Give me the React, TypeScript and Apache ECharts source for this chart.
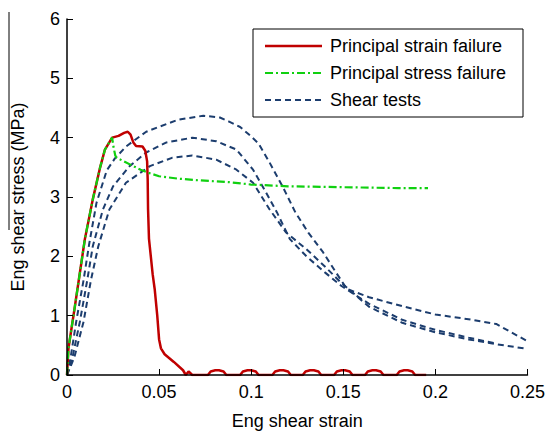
import React, { useEffect, useRef } from "react";
import * as echarts from "echarts";

// Eng shear strain vs eng shear stress (MPa)
const principalStrainFailure: [number, number][] = [
  [0, 0], [0.0008, 0.45], [0.0043, 1.16], [0.0097, 2.29], [0.014, 2.96], [0.018, 3.5],
  [0.0206, 3.8], [0.0245, 4.0], [0.028, 4.03], [0.031, 4.08], [0.033, 4.1], [0.0345, 4.05],
  [0.036, 3.92], [0.0375, 3.86], [0.041, 3.85], [0.0425, 3.78], [0.0435, 3.6], [0.0438, 3.3],
  [0.044, 2.8], [0.0445, 2.3], [0.0465, 1.7], [0.0476, 1.45], [0.049, 1.0], [0.05, 0.6],
  [0.051, 0.45], [0.053, 0.35], [0.058, 0.22], [0.063, 0.08], [0.0645, 0.0], [0.066, 0.06],
  [0.068, 0.0], [0.0765, 0.0], [0.078, 0.06], [0.0805, 0.08], [0.0825, 0.08], [0.085, 0.06],
  [0.0865, 0.0], [0.094, 0.0], [0.0955, 0.06], [0.098, 0.08], [0.1, 0.08], [0.1025, 0.06],
  [0.104, 0.0], [0.1115, 0.0], [0.113, 0.06], [0.1155, 0.08], [0.1175, 0.08], [0.12, 0.06],
  [0.1215, 0.0], [0.128, 0.0], [0.1295, 0.06], [0.132, 0.08], [0.134, 0.08], [0.1365, 0.06],
  [0.138, 0.0], [0.145, 0.0], [0.1465, 0.06], [0.149, 0.08], [0.151, 0.08], [0.1535, 0.06],
  [0.155, 0.0], [0.1618, 0.0], [0.1633, 0.06], [0.1658, 0.08], [0.1678, 0.08], [0.1703, 0.06],
  [0.1718, 0.0], [0.179, 0.0], [0.1805, 0.06], [0.183, 0.08], [0.185, 0.08], [0.1875, 0.06],
  [0.189, 0.0], [0.195, 0.0],
];

const principalStressFailure: [number, number][] = [
  [0, 0], [0.0008, 0.45], [0.0043, 1.16], [0.0097, 2.29], [0.014, 2.96], [0.018, 3.5],
  [0.0206, 3.8], [0.0245, 4.0], [0.0252, 3.85], [0.0262, 3.7], [0.027, 3.66], [0.031, 3.6],
  [0.036, 3.52], [0.04, 3.46], [0.044, 3.41], [0.05, 3.35], [0.06, 3.31], [0.072, 3.28],
  [0.088, 3.25], [0.1, 3.21], [0.12, 3.18], [0.14, 3.17], [0.16, 3.16], [0.18, 3.15],
  [0.196, 3.15],
];

const shearTestA: [number, number][] = [
  [0, 0], [0.002, 0.3], [0.005, 0.9], [0.009, 1.6], [0.012, 2.2], [0.016, 2.9],
  [0.0216, 3.45], [0.026, 3.65], [0.032, 3.85], [0.043, 4.1], [0.06, 4.3], [0.074, 4.37],
  [0.083, 4.34], [0.088, 4.27], [0.094, 4.18], [0.1, 4.02], [0.104, 3.9], [0.11, 3.58],
  [0.117, 3.18], [0.124, 2.74], [0.131, 2.4], [0.139, 2.07], [0.146, 1.73], [0.152, 1.45],
  [0.164, 1.31], [0.182, 1.16], [0.2, 1.02], [0.218, 0.94], [0.233, 0.86], [0.24, 0.74],
  [0.25, 0.57],
];

const shearTestB: [number, number][] = [
  [0, 0], [0.003, 0.3], [0.007, 0.9], [0.011, 1.6], [0.014, 2.17], [0.0195, 2.79],
  [0.025, 3.18], [0.034, 3.52], [0.043, 3.75], [0.054, 3.92], [0.068, 4.0], [0.081, 3.94],
  [0.092, 3.8], [0.101, 3.46], [0.108, 3.08], [0.114, 2.74], [0.121, 2.29], [0.13, 2.0],
  [0.14, 1.73], [0.149, 1.5], [0.164, 1.2], [0.182, 0.93], [0.2, 0.76], [0.218, 0.63],
  [0.233, 0.53],
];

const shearTestC: [number, number][] = [
  [0, 0], [0.004, 0.3], [0.009, 0.9], [0.013, 1.6], [0.017, 2.17], [0.023, 2.79],
  [0.032, 3.24], [0.045, 3.52], [0.057, 3.66], [0.068, 3.7], [0.081, 3.63], [0.092, 3.46],
  [0.101, 3.24], [0.11, 2.79], [0.119, 2.4], [0.13, 2.12], [0.14, 1.83], [0.149, 1.55],
  [0.164, 1.15], [0.182, 0.88], [0.2, 0.72], [0.218, 0.6], [0.233, 0.52], [0.25, 0.44],
];

const seriesNames = ["Principal strain failure", "Principal stress failure", "Shear tests"];
const xTicks = [0, 0.05, 0.1, 0.15, 0.2, 0.25];
const yTicks = [0, 1, 2, 3, 4, 5, 6];

const FONT = "'Liberation Sans', Arial, sans-serif";
const RED = "#c00000";
const GREEN = "#10d010";
const NAVY = "#1c3d6e";

const RED_STYLE = { color: RED, width: 2.5, dash: null as number[] | null };
const GREEN_STYLE = { color: GREEN, width: 2.2, dash: [8, 3, 2, 3] };
const NAVY_STYLE = { color: NAVY, width: 2, dash: [6, 4] };
const legendStyles = [RED_STYLE, GREEN_STYLE, NAVY_STYLE];

export default function App() {
  const ref = useRef<HTMLDivElement>(null);

  useEffect(() => {
    if (!ref.current) return;
    const chart = echarts.init(ref.current, undefined, { renderer: "svg" });

    const lineStyleOf = (s: typeof RED_STYLE) => ({
      color: s.color,
      width: s.width,
      type: s.dash ? s.dash : "solid",
    });

    // Boxed key in the upper right of the plot
    const legendBox = { x: 253, y: 29, w: 270, h: 88 };
    const legendGraphics: any[] = [
      {
        type: "rect",
        shape: { x: legendBox.x, y: legendBox.y, width: legendBox.w, height: legendBox.h },
        style: { fill: "#fff", stroke: "#000", lineWidth: 1 },
        z: 10,
      },
    ];
    seriesNames.forEach((name, i) => {
      const cy = legendBox.y + 17 + i * 27;
      const s = legendStyles[i];
      legendGraphics.push({
        type: "line",
        shape: { x1: 265, y1: cy, x2: 322, y2: cy },
        style: { stroke: s.color, lineWidth: s.width, lineDash: s.dash || undefined },
        z: 11,
      });
      legendGraphics.push({
        type: "text",
        x: 330,
        y: cy,
        style: {
          text: name,
          fill: "#000",
          font: `18px ${FONT}`,
          verticalAlign: "middle",
          align: "left",
        },
        z: 11,
      });
    });

    chart.setOption({
      animation: false,
      backgroundColor: "#ffffff",
      textStyle: { fontFamily: FONT, color: "#000" },
      grid: { left: 67, right: 19, top: 19, bottom: 59 },
      xAxis: {
        type: "value",
        min: xTicks[0],
        max: xTicks[xTicks.length - 1],
        interval: 0.05,
        z: 5,
        name: "Eng shear strain",
        nameLocation: "middle",
        nameGap: 37,
        nameTextStyle: { fontSize: 18, color: "#000", fontFamily: FONT },
        axisLine: { lineStyle: { color: "#000", width: 1.5 } },
        axisTick: { inside: true, length: 6, lineStyle: { color: "#000", width: 1 } },
        axisLabel: {
          fontSize: 18,
          color: "#000",
          fontFamily: FONT,
          margin: 8,
          formatter: (v: number) => String(Number(v.toFixed(2))),
        },
        splitLine: { show: false },
      },
      yAxis: {
        type: "value",
        min: yTicks[0],
        max: yTicks[yTicks.length - 1],
        interval: 1,
        z: 5,
        name: "Eng shear stress (MPa)",
        nameLocation: "middle",
        nameGap: 40,
        nameTextStyle: { fontSize: 18, color: "#000", fontFamily: FONT },
        axisLine: { show: true, lineStyle: { color: "#000", width: 1.5 } },
        axisTick: { show: true, inside: true, length: 6, lineStyle: { color: "#000", width: 1 } },
        axisLabel: { fontSize: 18, color: "#000", fontFamily: FONT, margin: 7 },
        splitLine: { show: false },
      },
      graphic: [
        {
          type: "line",
          shape: { x1: 9, y1: 12, x2: 9, y2: 230 },
          style: { stroke: "#000", lineWidth: 1 },
        },
        ...legendGraphics,
      ],
      series: [
        {
          name: seriesNames[2],
          type: "line",
          data: shearTestA,
          showSymbol: false,
          symbol: "none",
          lineStyle: lineStyleOf(NAVY_STYLE),
          z: 2,
        },
        {
          name: seriesNames[2],
          type: "line",
          data: shearTestB,
          showSymbol: false,
          symbol: "none",
          lineStyle: lineStyleOf(NAVY_STYLE),
          z: 2,
        },
        {
          name: seriesNames[2],
          type: "line",
          data: shearTestC,
          showSymbol: false,
          symbol: "none",
          lineStyle: lineStyleOf(NAVY_STYLE),
          z: 2,
        },
        {
          name: seriesNames[0],
          type: "line",
          data: principalStrainFailure,
          showSymbol: false,
          symbol: "none",
          lineStyle: lineStyleOf(RED_STYLE),
          z: 3,
        },
        {
          // dash-dot stress-failure curve sits on top of the shared initial slope
          name: seriesNames[1],
          type: "line",
          data: principalStressFailure,
          showSymbol: false,
          symbol: "none",
          lineStyle: lineStyleOf(GREEN_STYLE),
          z: 4,
        },
      ],
    });

    return () => chart.dispose();
  }, []);

  return (
    <div
      ref={ref}
      style={{ position: "fixed", left: 0, top: 0, width: 548, height: 435, background: "#fff" }}
    />
  );
}
